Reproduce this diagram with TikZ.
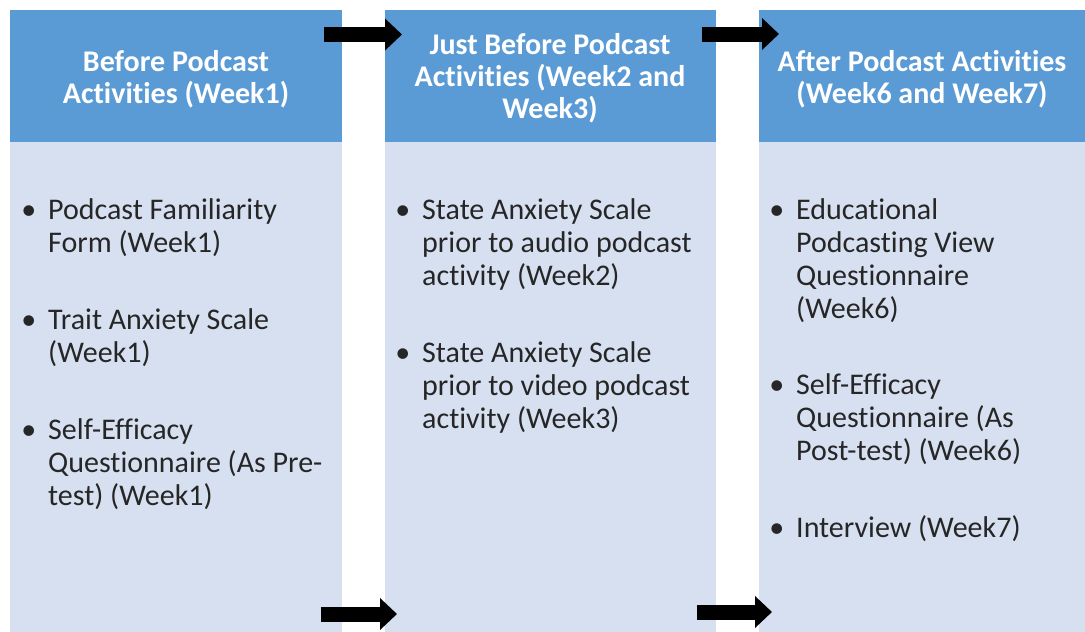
\documentclass[tikz,border=0pt]{standalone}
\usepackage{fontspec}
\setmainfont{Carlito}[Ligatures=NoCommon]
\usepackage{tikz}
\usetikzlibrary{arrows.meta}

\definecolor{headblue}{HTML}{5B9BD5}
\definecolor{bodyblue}{HTML}{D6E0F0}
\definecolor{textgray}{HTML}{262626}

\tikzset{
  head/.style={text=white, font=\fontsize{30}{32}\selectfont\bfseries, align=center, anchor=base, inner sep=0pt},
  item/.style={text=textgray, font=\fontsize{30}{33}\selectfont, align=left, anchor=base west, inner sep=0pt},
  blockarrow/.style={line width=15pt, -{Triangle[length=17pt, width=31pt]}},
}
\newcommand{\bul}{\llap{\textbullet\hspace{12pt}}}

\begin{document}
\begin{tikzpicture}[x=1pt, y=-1pt]
        \useasboundingbox (0,0) rectangle (1085,632);

        % the three columns
        \fill[headblue] (10,10) rectangle (342,142);
        \fill[bodyblue] (10,142) rectangle (342,632);
        \fill[headblue] (385,10) rectangle (716,142);
        \fill[bodyblue] (385,142) rectangle (716,632);
        \fill[headblue] (759,10) rectangle (1085,142);
        \fill[bodyblue] (759,142) rectangle (1085,632);

        % headers (placed at the baseline of their last line)
        \node[head] (before) at (176,103) {Before Podcast\\Activities (Week1)};
        \node[head] (justbefore) at (550,118) {Just Before Podcast\\Activities (Week2 and\\Week3)};
        \node[head] (after) at (922,103) {After Podcast Activities\\(Week6 and Week7)};

        \node[item] (familiarity) at (48,252) {\bul Podcast Familiarity\\Form (Week1)};
        \node[item] (trait) at (48,362) {\bul Trait Anxiety Scale\\(Week1)};
        \node[item] (selfpre) at (48,505) {\bul Self-Efficacy\\Questionnaire (As Pre-\\test) (Week1)};

        \node[item] (stateaudio) at (422,285) {\bul State Anxiety Scale\\prior to audio podcast\\activity (Week2)};
        \node[item] (statevideo) at (422,428) {\bul State Anxiety Scale\\prior to video podcast\\activity (Week3)};

        \node[item] (view) at (796,318) {\bul Educational\\Podcasting View\\Questionnaire\\(Week6)};
        \node[item] (selfpost) at (796,460) {\bul Self-Efficacy\\Questionnaire (As\\Post-test) (Week6)};
        \node[item] (interview) at (796,537) {\bul Interview (Week7)};

        % arrows between the columns
        \coordinate (top1) at (324,34.5);
        \coordinate (top2) at (402,34.5);
        \coordinate (bot1) at (321,614);
        \coordinate (bot2) at (397,614);
        \coordinate (top3) at (702,34);
        \coordinate (top4) at (779,34);
        \coordinate (bot3) at (697,612);
        \coordinate (bot4) at (772,612);
        \draw[blockarrow] (top1) -- (top2);
        \draw[blockarrow] (bot1) -- (bot2);
        \draw[blockarrow] (top3) -- (top4);
        \draw[blockarrow] (bot3) -- (bot4);
    \end{tikzpicture}
\end{document}
